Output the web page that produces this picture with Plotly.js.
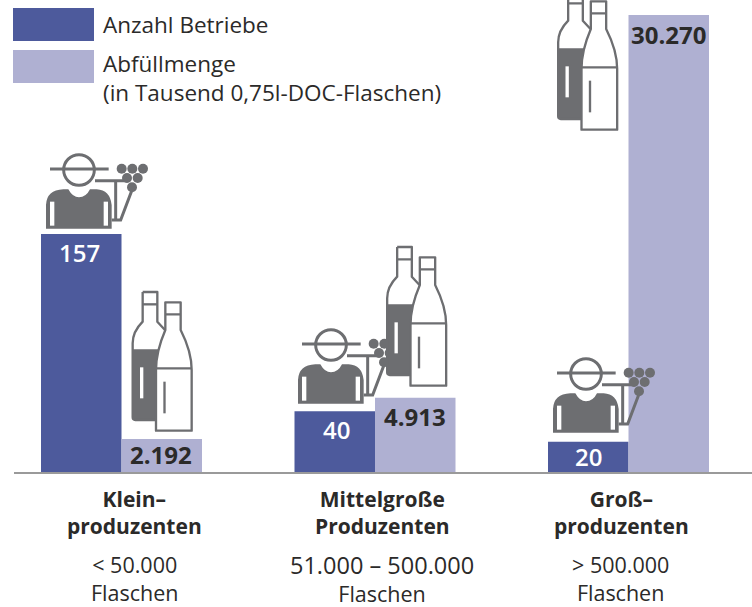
<!DOCTYPE html>
<html>
<head>
<meta charset="utf-8">
<script src="https://cdn.plot.ly/plotly-3.0.1.min.js"></script>
<style>html,body{margin:0;padding:0;background:#fff}#chart{width:752px;height:607px}</style>
</head>
<body>
<div id="chart"></div>
<script>
var groups = [0, 1, 2];
var betriebe = [157, 40, 20];
var abfuellmenge = [2192, 4913, 30270];
var betriebeLabels = ["157", "40", "20"];
var mengeLabels = ["2.192", "4.913", "30.270"];
var groupNames = [["Klein–", "produzenten"], ["Mittelgroße", "Produzenten"], ["Groß–", "produzenten"]];
var groupRanges = [["< 50.000", "Flaschen"], ["51.000 – 500.000", "Flaschen"], ["> 500.000", "Flaschen"]];
var legendNames = ["Anzahl Betriebe", "Abfüllmenge", "(in Tausend 0,75l-DOC-Flaschen)"];

var W = 752, H = 607, L = 14, B = 135;
var blue = "#4d5a9c", lilac = "#afb0d2", grey = "#6d6e71", ink = "#2b2a29";
var font = "'Open Sans', sans-serif";
var barW = 80.5, unit = 253.5, x0px = 121.5;
function fx(px){ return (px - L) / (W - L); }
function fy(py){ return (H - B - py) / (H - B); }
var pxLeft = 1.516, pxRight = 1.51, plotH = H - B;

var farmerSvg = '<svg xmlns="http://www.w3.org/2000/svg" width="660" height="600" viewBox="0 0 660 600">' +
 '<g fill="none" stroke="'+grey+'" stroke-width="9">' +
 '<circle cx="237" cy="90" r="46"/>' +
 '<path d="M150 87H326"/><path d="M285 122H385"/><path d="M347 122V240"/><path d="M335 240H362L396 150"/>' +
 '</g><g fill="'+grey+'">' +
 '<path d="M138 266V195Q140 150 190 148H205Q218 172 237 172Q258 172 270 148H290Q330 150 335 195V266Z"/>' +
 '<rect x="150" y="185" width="13" height="72" fill="#fff"/><rect x="311" y="185" width="13" height="72" fill="#fff"/>' +
 '<circle cx="365" cy="86" r="15"/><circle cx="397" cy="86" r="15"/><circle cx="429" cy="86" r="15"/>' +
 '<circle cx="381" cy="114" r="15"/><circle cx="413" cy="114" r="15"/><circle cx="396" cy="142" r="15"/>' +
 '</g></svg>';

var bottleSvg = '<svg xmlns="http://www.w3.org/2000/svg" width="270" height="600" viewBox="0 0 270 600">' +
 '<path d="M38 208H135L108 270V420H46Q38 420 38 412Z" fill="'+grey+'"/>' +
 '<path d="M68 36H112V125L135 150" fill="none" stroke="'+grey+'" stroke-width="7" stroke-linejoin="round"/>' +
 '<path d="M68 36V125Q38 155 38 190V412Q38 420 46 420H108" fill="none" stroke="'+grey+'" stroke-width="7" stroke-linejoin="round"/>' +
 '<path d="M68 73H112" stroke="'+grey+'" stroke-width="7"/>' +
 '<rect x="60" y="262" width="10" height="93" fill="#fff"/>' +
 '<path d="M136 67H182V150Q215 215 215 270V452H108V270Q108 215 136 150Z" fill="#fff" stroke="'+grey+'" stroke-width="7" stroke-linejoin="round"/>' +
 '<path d="M136 103H182M108 265H215" stroke="'+grey+'" stroke-width="7"/>' +
 '<rect x="130" y="305" width="7" height="95" fill="'+grey+'"/>' +
 '</svg>';

function img(svg, xpx, ypx, wpx, hpx){
  return {source: "data:image/svg+xml;charset=utf-8," + encodeURIComponent(svg),
    xref: "paper", yref: "paper", x: fx(xpx), y: fy(ypx),
    sizex: wpx / (W - L), sizey: hpx / plotH, sizing: "stretch",
    xanchor: "left", yanchor: "top", layer: "above"};
}
var images = [
  img(farmerSvg, 0, 140, 220, 200),
  img(farmerSvg, 252, 315, 220, 200),
  img(farmerSvg, 507, 344, 220, 200),
  img(bottleSvg, 120, 280, 90, 200),
  img(bottleSvg, 374.5, 235, 90, 200),
  img(bottleSvg, 545.5, -21, 90, 200)
];

function txt(s, xpx, ypx, size, color, bold, anchor){
  return {text: bold ? "<b>" + s + "</b>" : s, xref: "paper", yref: "paper", x: fx(xpx), y: fy(ypx),
    xanchor: anchor || "center", yanchor: "middle", showarrow: false,
    font: {family: font, size: size, color: color}};
}
var annotations = [];
var nameCx = [134, 382.5, 621], rangeCx = [134, 381.5, 620.5];
var size = 22.5, boldSize = 21, rangeSize = 21.5;
groups.forEach(function(g){
  annotations.push(txt(groupNames[g][0] + "<br>" + groupNames[g][1], nameCx[g], 512, boldSize, ink, true));
  var first = g === 1 ? '<span style="font-size:23.5px">' + groupRanges[g][0] + '</span>' : groupRanges[g][0];
  annotations.push(txt(first + "<br>" + groupRanges[g][1], rangeCx[g], 578, rangeSize, ink, false));
});
annotations.push(txt(legendNames[0], 100.5, 25, size, ink, false, "left"));
annotations.push(txt(legendNames[1] + "<br>" + legendNames[2], 100.5, 78.5, size, ink, false, "left"));
annotations[annotations.length - 1].align = "left";

var w = barW / unit;
var leftShift = [-19, -18, -15], leftDx = [-2, 2, 0];
var rightShift = [-16, -19, -20], rightDx = [-1, 0, 0];
groups.forEach(function(g){
  annotations.push({text: betriebeLabels[g], x: g - w/2, y: betriebe[g], xref:"x", yref:"y",
    xanchor:"center", yanchor:"middle", yshift:leftShift[g], xshift:leftDx[g], showarrow:false,
    font:{family:font, size:24, color:"#fff", weight:600}});
  annotations.push({text: "<b>" + mengeLabels[g] + "</b>", x: g + w/2, y: abfuellmenge[g], xref:"x", yref:"y2",
    xanchor:"center", yanchor:"middle", yshift:rightShift[g], xshift:rightDx[g], showarrow:false,
    font:{family:font, size:24, color:ink}});
});

var shapes = [
  {type:"rect", xref:"paper", yref:"paper", x0:fx(13), x1:fx(94), y0:fy(8), y1:fy(41), fillcolor:blue, line:{width:0}},
  {type:"rect", xref:"paper", yref:"paper", x0:fx(13), x1:fx(94), y0:fy(50), y1:fy(83), fillcolor:lilac, line:{width:0}}
];

var traces = [
  {type:"bar", name:legendNames[0], x:groups, y:betriebe, yaxis:"y", width:w, offset:-w,
   marker:{color:blue, line:{width:0}}, hoverinfo:"skip"},
  {type:"bar", name:legendNames[1], x:groups, y:abfuellmenge, yaxis:"y2", width:w, offset:0,
   marker:{color:lilac, line:{width:0}}, hoverinfo:"skip"}
];
var layout = {
  width:W, height:H, paper_bgcolor:"#fff", plot_bgcolor:"#fff", showlegend:false,
  margin:{l:L, r:0, t:0, b:B}, barmode:"overlay",
  xaxis:{range:[(L - x0px)/unit, (W - x0px)/unit], showticklabels:false, ticks:"", showgrid:false, zeroline:false,
         showline:true, linecolor:"#9a9a9a", linewidth:1.5, fixedrange:true},
  yaxis:{range:[0, plotH/pxLeft], visible:false, fixedrange:true},
  yaxis2:{range:[0, plotH/pxRight*100], visible:false, overlaying:"y", fixedrange:true},
  images:images, shapes:shapes, annotations:annotations
};
Plotly.newPlot("chart", traces, layout, {displayModeBar:false, staticPlot:true});
</script>
</body>
</html>
